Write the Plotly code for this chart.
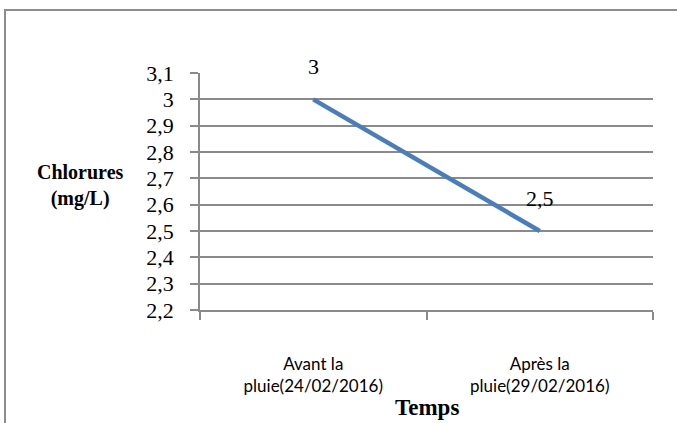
import plotly.graph_objects as go

categories = ["Avant la<br>pluie(24/02/2016)", "Après la<br>pluie(29/02/2016)"]
chlorures = [3.0, 2.5]
value_labels = ["3", "2,5"]
y_ticks = [2.2, 2.3, 2.4, 2.5, 2.6, 2.7, 2.8, 2.9, 3.0, 3.1]
y_tick_text = ["2,2", "2,3", "2,4", "2,5", "2,6", "2,7", "2,8", "2,9", "3", "3,1"]

grid = "#8a8a8a"
serif = "Liberation Serif"

fig = go.Figure()
fig.add_trace(go.Scatter(
    x=categories, y=chlorures, mode="lines",
    line=dict(color="#4a7ebb", width=4.5),
    showlegend=False, hoverinfo="skip",
))

for c, v, t in zip(categories, chlorures, value_labels):
    fig.add_annotation(x=c, y=v, text=t, showarrow=False, yshift=33,
                       font=dict(family=serif, size=22, color="black"))

fig.add_annotation(xref="paper", yref="paper", x=-0.264, y=0.527,
                   text="<b>Chlorures</b><br><b>(mg/L)</b>", showarrow=False,
                   xanchor="center", yanchor="middle",
                   font=dict(family=serif, size=20, color="black"))
fig.add_annotation(xref="paper", yref="paper", x=0.5, y=-0.41,
                   text="<b>Temps</b>", showarrow=False,
                   xanchor="center", yanchor="middle",
                   font=dict(family=serif, size=23, color="black"))

fig.add_shape(type="rect", xref="paper", yref="paper",
              x0=-0.4305, y0=-0.7, x1=1.2, y1=1.266,
              line=dict(color="#8c8c8c", width=2), layer="below")

fig.update_layout(
    width=677, height=423,
    margin=dict(l=200, r=24, t=73, b=113),
    paper_bgcolor="white", plot_bgcolor="white",
    xaxis=dict(
        type="category", range=[-0.5, 1.5], showgrid=False,
        showline=True, linecolor=grid, linewidth=1.5,
        ticks="outside", tickson="boundaries", ticklen=8, tickcolor=grid, tickwidth=1.5,
        tickfont=dict(family="Lato", size=17, color="black"),
        ticklabelstandoff=38,
    ),
    yaxis=dict(
        range=[2.2, 3.1], tickvals=y_ticks, ticktext=y_tick_text,
        showgrid=True, gridcolor=grid, gridwidth=1.5,
        showline=True, linecolor=grid, linewidth=1.5,
        ticks="outside", ticklen=8, tickcolor=grid, tickwidth=1.5,
        tickfont=dict(family=serif, size=22, color="black"),
        ticklabelstandoff=12, zeroline=False,
    ),
)

fig.write_html("out.html")
